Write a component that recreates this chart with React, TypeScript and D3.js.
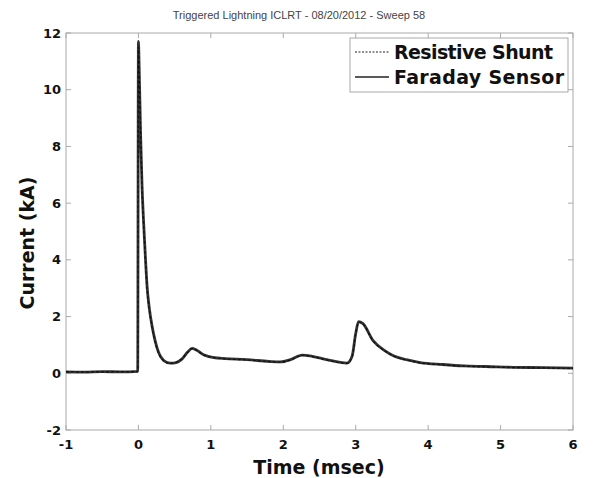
import React, { useEffect, useRef } from 'react';
import * as d3 from 'd3';

const title = 'Triggered Lightning ICLRT - 08/20/2012 - Sweep 58';
const xTicks = [-1, 0, 1, 2, 3, 4, 5, 6];
const yTicks = [-2, 0, 2, 4, 6, 8, 10, 12];

// time in msec
const timeMs = [
  -1, -0.75, -0.5, -0.25, -0.01, 0, 0.01, 0.03, 0.05, 0.07, 0.1, 0.12, 0.15, 0.19, 0.23, 0.28,
  0.35, 0.44, 0.52, 0.6, 0.68, 0.74, 0.8, 0.9, 1.04, 1.2, 1.5, 1.8, 1.96, 2.1, 2.26, 2.4,
  2.6, 2.88, 2.95, 3.0, 3.04, 3.1, 3.24, 3.4, 3.52, 3.7, 3.89, 4.2, 4.49, 4.8, 5.18, 5.6, 6,
];
// current in kA
const faraday = [
  0.05, 0.04, 0.06, 0.05, 0.07, 11.7, 10.8, 8.4, 6.6, 5.4, 3.9, 3.05, 2.3, 1.64, 1.15, 0.72,
  0.45, 0.36, 0.38, 0.5, 0.75, 0.88, 0.82, 0.65, 0.55, 0.52, 0.48, 0.42, 0.4, 0.48, 0.64, 0.6,
  0.48, 0.36, 0.6, 1.4, 1.82, 1.75, 1.15, 0.8, 0.62, 0.48, 0.38, 0.31, 0.26, 0.24, 0.21, 0.2, 0.18,
];
const shunt = [
  0.06, 0.05, 0.05, 0.06, 0.06, 11.5, 10.6, 8.5, 6.5, 5.3, 3.85, 3.0, 2.25, 1.6, 1.12, 0.7,
  0.44, 0.35, 0.39, 0.51, 0.74, 0.87, 0.81, 0.64, 0.56, 0.51, 0.47, 0.41, 0.39, 0.47, 0.63, 0.59,
  0.47, 0.35, 0.58, 1.38, 1.8, 1.74, 1.14, 0.79, 0.61, 0.47, 0.37, 0.3, 0.25, 0.23, 0.2, 0.19, 0.17,
];
const legendNames = ['Resistive Shunt', 'Faraday Sensor'];

export default function App() {
  const ref = useRef<SVGSVGElement>(null);

  useEffect(() => {
    const svg = d3.select(ref.current);
    svg.selectAll('*').remove();

    const margin = { top: 33, left: 66 };
    const x = d3.scaleLinear().domain([-1, 6]).range([0, 507]);
    const y = d3.scaleLinear().domain([-2, 12]).range([397, 0]);
    const g = svg.append('g').attr('transform', `translate(${margin.left},${margin.top})`);
    const boldFont = '"DejaVu Sans", sans-serif';

    svg.append('text')
      .attr('x', 299).attr('y', 19)
      .attr('text-anchor', 'middle')
      .attr('font-family', '"Liberation Sans", Arial, sans-serif')
      .attr('font-size', '11px')
      .attr('fill', '#444')
      .text(title);

    // box
    g.append('rect')
      .attr('x', 0).attr('y', 0)
      .attr('width', x(6)).attr('height', y(-2))
      .attr('fill', 'none').attr('stroke', '#aaa');

    // inward ticks on all four sides
    xTicks.forEach(t => {
      g.append('line').attr('x1', x(t)).attr('x2', x(t)).attr('y1', y(-2)).attr('y2', y(-2) - 5).attr('stroke', '#aaa');
      g.append('line').attr('x1', x(t)).attr('x2', x(t)).attr('y1', 0).attr('y2', 5).attr('stroke', '#aaa');
      g.append('text')
        .attr('x', x(t)).attr('y', y(-2) + 19)
        .attr('text-anchor', 'middle')
        .attr('font-family', boldFont).attr('font-weight', 'bold').attr('font-size', '13px')
        .attr('fill', '#111')
        .text(t);
    });
    yTicks.forEach(t => {
      g.append('line').attr('x1', 0).attr('x2', 5).attr('y1', y(t)).attr('y2', y(t)).attr('stroke', '#aaa');
      g.append('line').attr('x1', x(6)).attr('x2', x(6) - 5).attr('y1', y(t)).attr('y2', y(t)).attr('stroke', '#aaa');
      g.append('text')
        .attr('x', -5).attr('y', y(t)).attr('dy', '0.35em')
        .attr('text-anchor', 'end')
        .attr('font-family', boldFont).attr('font-weight', 'bold').attr('font-size', '13px')
        .attr('fill', '#111')
        .text(t);
    });

    const pts = (vals: number[]) => timeMs.map((t, i) => [t, vals[i]] as [number, number]);
    const line = d3.line<[number, number]>()
      .x(d => x(d[0]))
      .y(d => y(d[1]))
      .curve(d3.curveMonotoneX);

    g.append('path')
      .datum(pts(faraday))
      .attr('fill', 'none')
      .attr('stroke', '#333')
      .attr('stroke-width', 2.8)
      .attr('stroke-linejoin', 'round')
      .attr('d', line);

    g.append('path')
      .datum(pts(shunt))
      .attr('fill', 'none')
      .attr('stroke', '#111')
      .attr('stroke-width', 1.2)
      .attr('stroke-dasharray', '3,2')
      .attr('d', line);

    // legend
    const lg = svg.append('g').attr('transform', 'translate(350,38)');
    lg.append('rect')
      .attr('width', 218).attr('height', 54)
      .attr('fill', '#fff').attr('stroke', '#aaa');
    legendNames.forEach((name, i) => {
      const yy = 14 + i * 25;
      lg.append('line')
        .attr('x1', 5).attr('x2', 39).attr('y1', yy).attr('y2', yy)
        .attr('stroke', '#222')
        .attr('stroke-width', i === 0 ? 1.2 : 1.5)
        .attr('stroke-dasharray', i === 0 ? '2,1.5' : null);
      lg.append('text')
        .attr('x', 44).attr('y', yy).attr('dy', '0.35em')
        .attr('font-family', boldFont).attr('font-weight', 'bold').attr('font-size', '19px')
        .attr('fill', '#111')
        .attr('textLength', i === 0 ? 159 : 170)
        .text(name);
    });

    svg.append('text')
      .attr('x', 319).attr('y', 474)
      .attr('text-anchor', 'middle')
      .attr('font-family', boldFont).attr('font-weight', 'bold').attr('font-size', '19px')
      .attr('fill', '#111')
      .text('Time (msec)');

    svg.append('text')
      .attr('transform', 'translate(34,243) rotate(-90)')
      .attr('text-anchor', 'middle')
      .attr('font-family', boldFont).attr('font-weight', 'bold').attr('font-size', '19px')
      .attr('fill', '#111')
      .text('Current (kA)');
  }, []);

  return (
    <svg ref={ref} width={594} height={478}
      style={{ position: 'absolute', left: 0, top: 0, background: '#fff' }} />
  );
}
